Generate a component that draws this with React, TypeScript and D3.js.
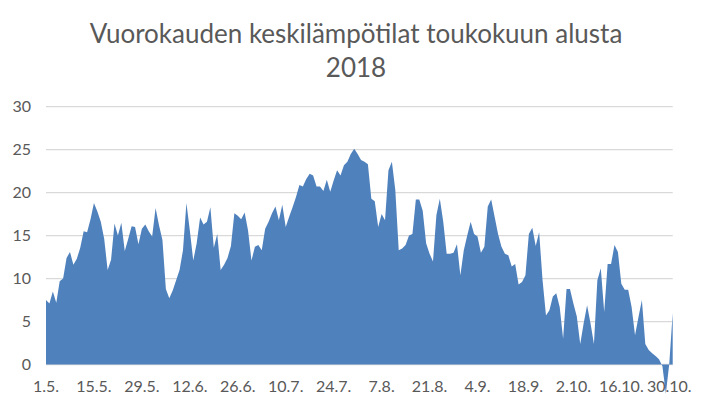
import React from "react";
import * as d3 from "d3";

const title1 = "Vuorokauden keskilämpötilat toukokuun alusta";
const title2 = "2018";

// Daily mean temperatures 1.5.–31.10.2018 (one value per day)
const temperatures: number[] = [
  7.5, 7.1, 8.5, 7.2, 9.7, 10.0, 12.4, 13.1, 11.6, 12.3,
  13.6, 15.5, 15.4, 16.9, 18.8, 17.8, 16.6, 14.6, 11.0, 12.2,
  16.4, 15.0, 16.5, 13.2, 14.6, 16.1, 16.0, 14.0, 15.8, 16.3,
  15.5, 14.9, 18.2, 16.2, 14.5, 8.8, 7.7, 8.6, 9.8, 11.0,
  13.3, 18.8, 15.6, 12.1, 14.1, 17.1, 16.3, 16.6, 18.3, 13.6,
  15.2, 11.0, 11.6, 12.4, 13.8, 17.6, 17.3, 16.9, 17.7, 15.6,
  12.1, 13.7, 13.9, 13.3, 15.8, 16.6, 17.6, 18.4, 16.8, 18.6,
  16.0, 17.2, 18.3, 19.5, 20.9, 20.7, 21.6, 22.2, 22.0, 20.7,
  20.7, 20.2, 21.5, 20.1, 21.4, 22.6, 22.0, 23.2, 23.6, 24.5,
  25.1, 24.5, 23.8, 23.6, 23.3, 19.3, 19.0, 16.0, 17.5, 16.8,
  22.6, 23.6, 20.3, 13.3, 13.5, 13.9, 15.0, 15.2, 19.2, 19.2,
  17.9, 14.1, 12.9, 12.0, 17.4, 19.3, 16.6, 12.9, 12.9, 13.0,
  14.0, 10.4, 13.3, 15.0, 16.6, 15.2, 14.9, 13.0, 13.7, 18.4,
  19.2, 17.2, 15.2, 13.7, 12.9, 12.7, 11.4, 11.7, 9.3, 9.6,
  10.4, 15.2, 15.9, 13.8, 15.4, 9.8, 5.7, 6.3, 7.9, 8.3,
  6.7, 3.0, 8.8, 8.8, 7.1, 5.6, 2.4, 4.8, 6.9, 4.8,
  2.4, 9.8, 11.2, 6.1, 11.7, 11.7, 13.9, 13.1, 9.4, 8.7,
  8.7, 6.7, 3.4, 5.5, 7.5, 2.4, 1.7, 1.3, 1.0, 0.6,
  -0.2, -3.4, 0.1, 6.0,
];

const tickLabels = [
  "1.5.", "15.5.", "29.5.", "12.6.", "26.6.", "10.7.", "24.7.",
  "7.8.", "21.8.", "4.9.", "18.9.", "2.10.", "16.10.", "30.10.",
];
const tickEvery = 14;
const yTicks = [0, 5, 10, 15, 20, 25, 30];

const W = 713;
const H = 403;
const FONT = "Lato, 'Open Sans', sans-serif";

export default function App() {
  const x = d3.scaleLinear().domain([0, temperatures.length - 1]).range([46, 672.7]);
  const y = d3.scaleLinear().domain([0, 30]).range([364.5, 106.7]);

  const area = d3
    .area<number>()
    .x((_, i) => x(i))
    .y0(y(0))
    .y1((d) => y(d));

  return (
    <svg
      width={W}
      height={H}
      style={{ position: "absolute", left: 0, top: 0, background: "#fff" }}
      fontFamily={FONT}
    >
      <text x={356} y={43} textAnchor="middle" fontSize={26} fill="#595959">
        {title1}
      </text>
      <text x={356} y={77} textAnchor="middle" fontSize={26} fill="#595959">
        {title2}
      </text>
      {yTicks.map((t) => (
        <g key={t}>
          <line x1={46} x2={672.7} y1={y(t)} y2={y(t)} stroke="#d9d9d9" strokeWidth={1.3} />
          <text x={31} y={y(t) + 5.5} textAnchor="end" fontSize={16} fill="#595959">
            {t}
          </text>
        </g>
      ))}
      {tickLabels.map((l, i) => (
        <text key={l} x={x(i * tickEvery)} y={392} textAnchor="middle" fontSize={16} fill="#595959">
          {l}
        </text>
      ))}
      <path d={area(temperatures) ?? ""} fill="#4f81bd" />
    </svg>
  );
}
